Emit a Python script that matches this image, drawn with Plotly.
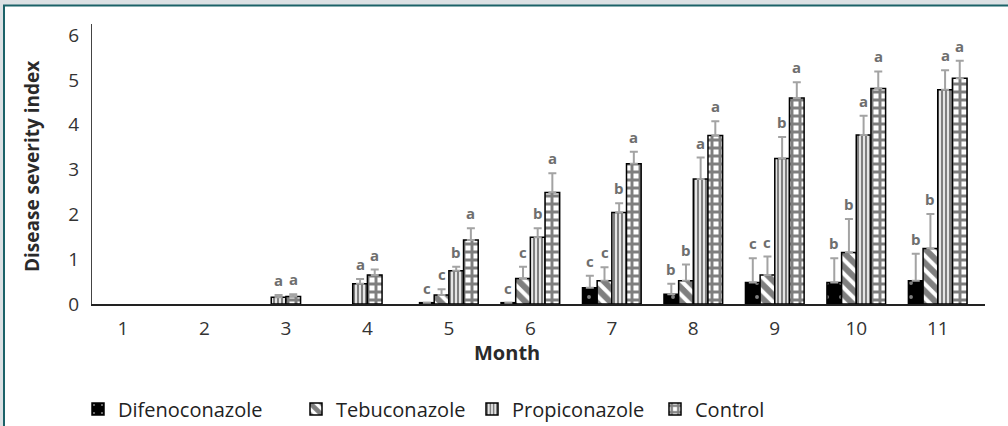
import plotly.graph_objects as go

months = [1, 2, 3, 4, 5, 6, 7, 8, 9, 10, 11]
series_names = ["Difenoconazole", "Tebuconazole", "Propiconazole", "Control"]

difeno = [0, 0, 0, 0, 0.03, 0.03, 0.36, 0.22, 0.48, 0.48, 0.52]
tebu = [0, 0, 0, 0, 0.20, 0.57, 0.52, 0.52, 0.65, 1.15, 1.24]
propi = [0, 0, 0.15, 0.45, 0.74, 1.49, 2.04, 2.79, 3.25, 3.77, 4.78]
control = [0, 0, 0.17, 0.65, 1.43, 2.49, 3.13, 3.76, 4.60, 4.81, 5.04]

difeno_err = [0, 0, 0, 0, 0, 0, 0.27, 0.23, 0.54, 0.54, 0.60]
tebu_err = [0, 0, 0, 0, 0.13, 0.26, 0.30, 0.36, 0.41, 0.75, 0.77]
propi_err = [0, 0, 0.05, 0.11, 0.09, 0.20, 0.21, 0.48, 0.48, 0.43, 0.44]
control_err = [0, 0, 0.05, 0.12, 0.26, 0.43, 0.27, 0.32, 0.35, 0.38, 0.39]

difeno_lbl = ["", "", "", "", "c", "c", "c", "b", "c", "b", "b"]
tebu_lbl = ["", "", "", "", "c", "c", "c", "b", "c", "b", "b"]
propi_lbl = ["", "", "a", "a", "b", "b", "b", "a", "b", "a", "a"]
control_lbl = ["", "", "a", "a", "a", "a", "a", "a", "a", "a", "a"]

values = [difeno, tebu, propi, control]
errors = [difeno_err, tebu_err, propi_err, control_err]
labels = [difeno_lbl, tebu_lbl, propi_lbl, control_lbl]

patterns = [
    dict(shape=".", fgcolor="white", bgcolor="black", size=14, solidity=0.06),
    dict(shape="\\", fgcolor="black", bgcolor="white", size=10, solidity=0.6),
    dict(shape="|", fgcolor="black", bgcolor="white", size=4, solidity=0.6),
    dict(shape="+", fgcolor="black", bgcolor="white", size=8, solidity=0.6),
]

W = 0.18  # bar width in month units

# offsets: nonzero bars of each month are packed around the month centre
offsets = [[0.0] * len(months) for _ in values]
for i in range(len(months)):
    nz = [s for s in range(len(values)) if values[s][i] > 0]
    n = len(nz)
    for k, s in enumerate(nz):
        offsets[s][i] = (k - n / 2) * W

legend_ids = ["legend", "legend2", "legend3", "legend4"]
legend_text_x = [118, 336, 512, 695]

fig = go.Figure()
for s, name in enumerate(series_names):
    yv = [v if v > 0 else None for v in values[s]]
    fig.add_trace(go.Bar(
        x=months, y=yv, name=name, legend=legend_ids[s],
        width=[W] * len(months), offset=offsets[s],
        marker=dict(color=patterns[s]["bgcolor"], pattern=patterns[s],
                    line=dict(color="black", width=1.5)),
        error_y=dict(type="data", array=errors[s], symmetric=False,
                     arrayminus=[0] * len(months), color="#a3a3a3",
                     thickness=2, width=4, visible=True),
    ))

annotations = []
for s in range(len(values)):
    for i, m in enumerate(months):
        if labels[s][i]:
            annotations.append(dict(
                x=m + offsets[s][i] + W / 2, y=values[s][i] + errors[s][i],
                xref="x", yref="y", text=labels[s][i], showarrow=False,
                xanchor="center", yanchor="bottom", yshift=3,
                font=dict(family="Open Sans", size=15, color="#6e6e6e", weight="bold"),
            ))

# layout geometry helpers (pixels -> paper)
L, R, T, B = 92, 985, 24, 304
FW, FH = 1008, 426
def px(p):
    return (p - L) / (R - L)
def py(q):
    return (B - q) / (B - T)

annotations.append(dict(x=px(507), y=py(352), xref="paper", yref="paper",
                        xanchor="center", yanchor="middle",
                        text="<b>Month</b>", showarrow=False,
                        font=dict(family="Open Sans", size=20, color="#2a2a2a")))
annotations.append(dict(x=px(32), y=py(167), xref="paper", yref="paper",
                        xanchor="center", yanchor="middle",
                        text="<b>Disease severity index</b>", showarrow=False,
                        textangle=-90,
                        font=dict(family="Open Sans", size=19, color="#2a2a2a")))

shapes = [
    dict(type="rect", xref="paper", yref="paper", x0=px(0), x1=px(FW),
         y0=py(5), y1=py(0), fillcolor="#dce1e4", line=dict(width=0), layer="below"),
    dict(type="rect", xref="paper", yref="paper", x0=px(0), x1=px(3),
         y0=py(FH), y1=py(0), fillcolor="#dce1e4", line=dict(width=0), layer="below"),
    dict(type="line", xref="paper", yref="paper", x0=px(3), x1=px(FW),
         y0=py(5.5), y1=py(5.5), line=dict(color="#1b6268", width=2)),
    dict(type="line", xref="paper", yref="paper", x0=px(4), x1=px(4),
         y0=py(FH), y1=py(5), line=dict(color="#1b6268", width=2)),
]

layout_legends = {}
for s, lid in enumerate(legend_ids):
    layout_legends[lid] = dict(
        orientation="h", xref="container", yref="container",
        x=(legend_text_x[s] - 40) / FW, y=(FH - 409) / FH,
        xanchor="left", yanchor="middle",
        font=dict(family="Open Sans", size=20, color="#222"),
        bgcolor="rgba(0,0,0,0)", itemwidth=30,
    )

fig.update_layout(
    width=FW, height=FH,
    margin=dict(l=L, r=FW - R, t=T, b=FH - B, autoexpand=False),
    paper_bgcolor="white", plot_bgcolor="white",
    barmode="overlay",
    font=dict(family="Open Sans", color="#333"),
    xaxis=dict(range=[0.62, 11.58], tickmode="array", tickvals=months,
               ticktext=[str(m) for m in months], showgrid=False,
               showline=True, linecolor="#222", linewidth=1.5, ticks="",
               tickfont=dict(size=19, color="#333"), zeroline=False,
               automargin=False, ticklabelstandoff=6),
    yaxis=dict(range=[0, 6.25], tickmode="array", tickvals=[0, 1, 2, 3, 4, 5, 6],
               showgrid=False, showline=True, linecolor="#444", linewidth=1,
               ticks="", tickfont=dict(size=19, color="#333"), zeroline=False,
               ticklabelstandoff=8, automargin=False),
    annotations=annotations, shapes=shapes,
    showlegend=True,
    **layout_legends,
)

fig.write_html("out.html")
